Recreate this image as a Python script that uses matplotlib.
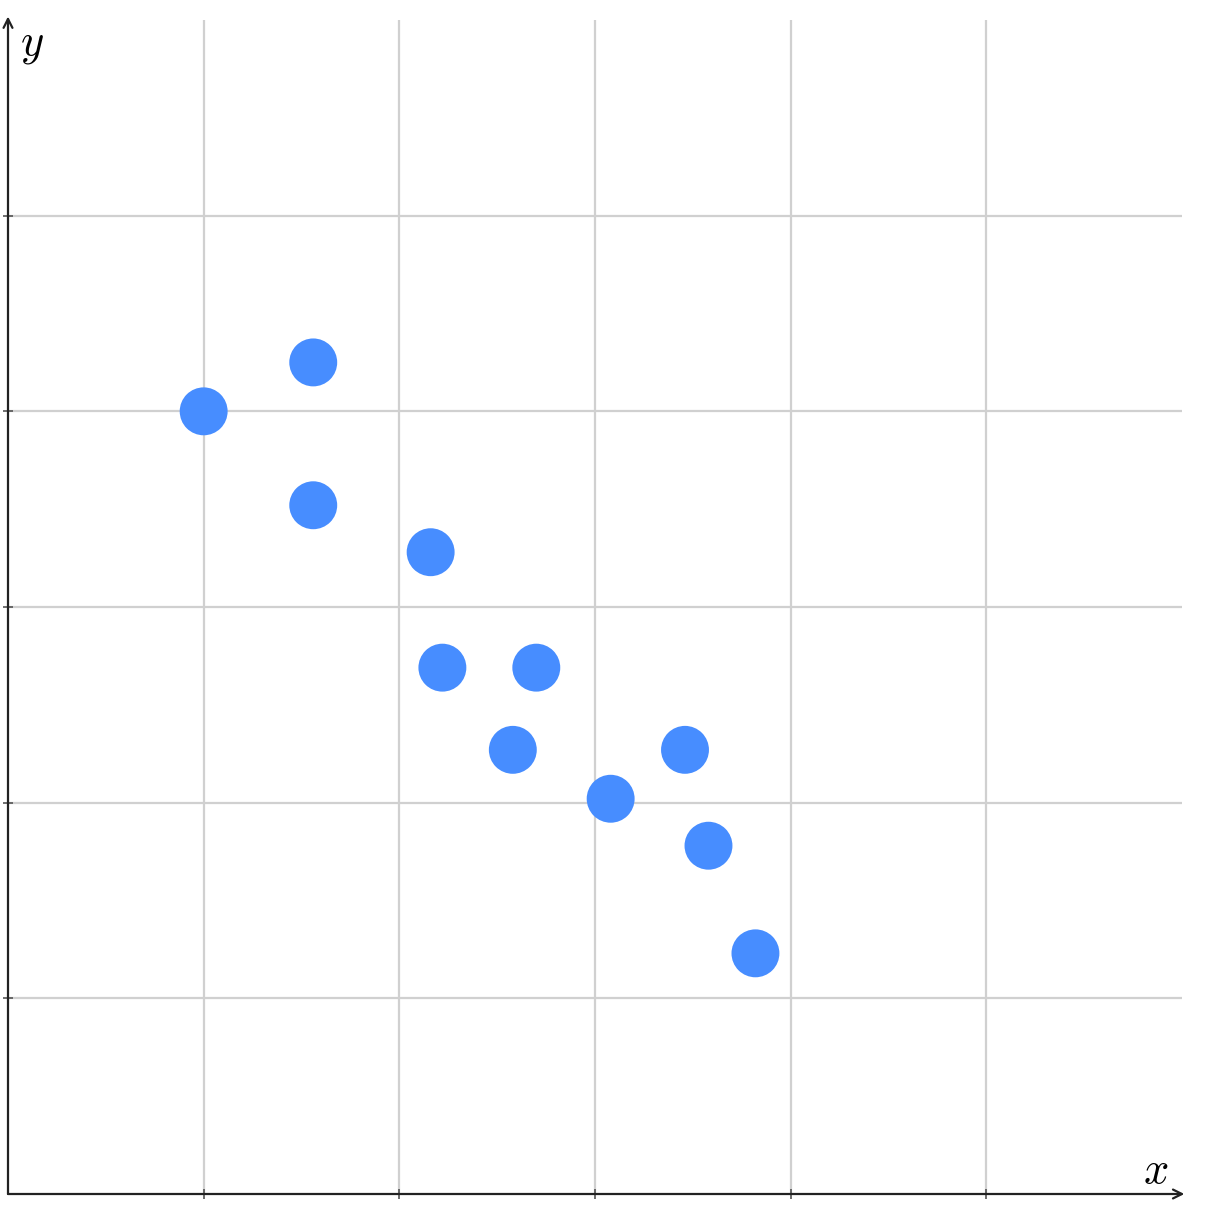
import matplotlib
matplotlib.use("Agg")
import matplotlib.pyplot as plt

x_vals = [1.00, 1.56, 1.56, 2.16, 2.22, 2.70, 2.58, 3.46, 3.08, 3.58, 3.82]
y_vals = [4.00, 4.25, 3.52, 3.28, 2.69, 2.69, 2.27, 2.27, 2.02, 1.78, 1.23]
grid_ticks = [1, 2, 3, 4, 5]

plt.rcParams['mathtext.fontset'] = 'cm'

fig = plt.figure(figsize=(12.06, 12.10), dpi=100)
ax = fig.add_axes([8/1206, 16/1210, 1174/1206, 1174/1210])
ax.set_xlim(0, 6)
ax.set_ylim(0, 6)
for s in ax.spines.values():
    s.set_visible(False)

ax.set_xticks(grid_ticks)
ax.set_yticks(grid_ticks)
ax.set_xticklabels([])
ax.set_yticklabels([])
ax.tick_params(direction='inout', length=7, width=1.2, color='#555555')
ax.grid(True, color='#d0d0d0', linewidth=1.6)
ax.set_axisbelow(True)

ax.annotate('', xy=(0, 1.003), xytext=(0, 0), xycoords='axes fraction',
            arrowprops=dict(arrowstyle='->', color='#222222', lw=1.6,
                            shrinkA=0, shrinkB=0, mutation_scale=16), annotation_clip=False)
ax.annotate('', xy=(1.002, 0), xytext=(0, 0), xycoords='axes fraction',
            arrowprops=dict(arrowstyle='->', color='#222222', lw=1.6,
                            shrinkA=0, shrinkB=0, mutation_scale=16), annotation_clip=False)

ax.scatter(x_vals, y_vals, s=1190, color='#478dff', edgecolors='none', zorder=3)

fig.text(32/1206, 1 - 45/1210, r'$y$', fontsize=32, ha='center', va='center')
fig.text(1156/1206, 1 - 1170/1210, r'$x$', fontsize=32, ha='center', va='center')

fig.savefig('out.png', dpi=100, facecolor='white')
